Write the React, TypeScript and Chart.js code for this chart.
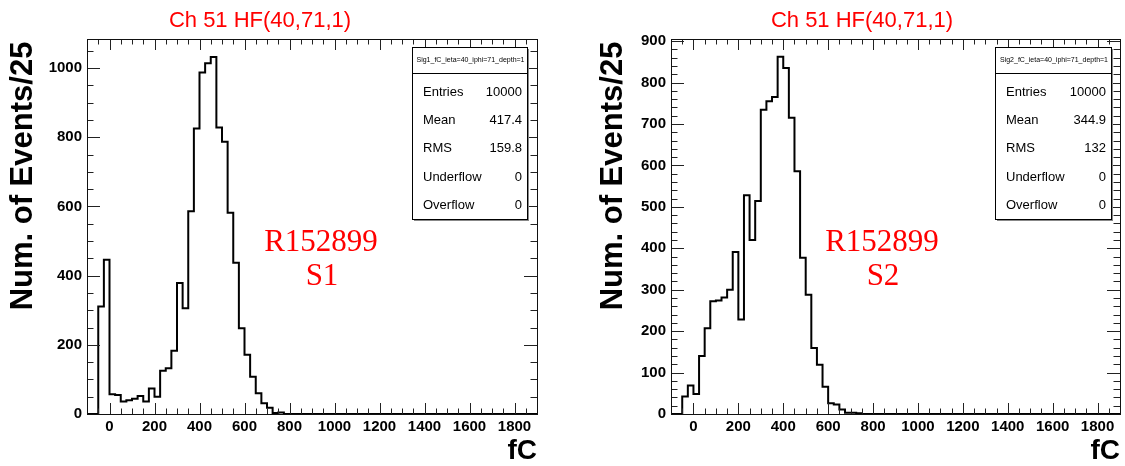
import React, { useEffect, useRef } from 'react';
import { Chart, registerables } from 'chart.js';

Chart.register(...registerables);

// Histogram binning (fC)
const binLow = -100;
const binHigh = 1900;
const binWidth = 25;

// Counts per 25 fC bin, starting at the -100 fC bin; bins beyond the list are empty
const sig1Counts = [
  0, 0, 0, 311, 446, 57, 55, 36, 40, 44, 52, 36, 74, 50, 125, 132, 183, 379, 306,
  586, 825, 987, 1014, 1032, 828, 787, 582, 437, 248, 171, 108, 60, 31, 18, 3, 4,
];
const sig2Counts = [
  0, 0, 0, 42, 69, 48, 140, 207, 272, 274, 281, 300, 391, 228, 528, 420, 514, 734,
  755, 765, 862, 835, 715, 586, 377, 288, 159, 119, 66, 26, 23, 11, 3, 3, 2,
];

const xTickValues = [0, 200, 400, 600, 800, 1000, 1200, 1400, 1600, 1800];
const sig1YTicks = [0, 200, 400, 600, 800, 1000];
const sig2YTicks = [0, 100, 200, 300, 400, 500, 600, 700, 800, 900];

const statLabels = ['Entries', 'Mean', 'RMS', 'Underflow', 'Overflow'];
const sig1Stats = ['10000', '417.4', '159.8', '0', '0'];
const sig2Stats = ['10000', '344.9', '132', '0', '0'];

const chartTitle = 'Ch 51 HF(40,71,1)';
const yAxisTitle = 'Num. of Events/25';
const xAxisTitle = 'fC';
const runLabel = 'R152899';

const SANS = '"Liberation Sans", Arial, Helvetica, sans-serif';
const SERIF = '"Liberation Serif", "Times New Roman", serif';

function toPoints(counts: number[]) {
  const nBins = Math.round((binHigh - binLow) / binWidth);
  const pts: { x: number; y: number }[] = [];
  for (let i = 0; i < nBins; i++) {
    pts.push({ x: binLow + i * binWidth, y: i < counts.length ? counts[i] : 0 });
  }
  pts.push({ x: binHigh, y: 0 });
  return pts;
}

const rootPlugin = {
  id: 'rootDecor',
  afterDatasetsDraw(chart: any, _args: any, o: any) {
    const ctx = chart.ctx as CanvasRenderingContext2D;
    const { left, right, top, bottom } = chart.chartArea;
    const xs = chart.scales.x;
    const ys = chart.scales.y;
    ctx.save();

    // ticks inside the frame (all four sides)
    ctx.strokeStyle = '#222';
    ctx.lineWidth = 1;
    ctx.beginPath();
    for (let v = xs.min; v <= xs.max + 1e-6; v += o.xMinor) {
      const px = Math.round(xs.getPixelForValue(v)) + 0.5;
      if (px <= left + 1 || px >= right - 1) continue;
      const major = Math.abs(v % o.xMajor) < 1e-6;
      const len = major ? 11 : 5.5;
      ctx.moveTo(px, bottom);
      ctx.lineTo(px, bottom - len);
      ctx.moveTo(px, top);
      ctx.lineTo(px, top + len);
    }
    for (let v = ys.min; v <= ys.max + 1e-6; v += o.yMinor) {
      const py = Math.round(ys.getPixelForValue(v)) + 0.5;
      if (py <= top + 1 || py >= bottom - 1) continue;
      const major = Math.abs(v % o.yMajor) < 1e-6;
      const len = major ? 13 : 6.5;
      ctx.moveTo(left, py);
      ctx.lineTo(left + len, py);
      ctx.moveTo(right, py);
      ctx.lineTo(right - len, py);
    }
    ctx.stroke();

    // frame
    ctx.strokeStyle = '#111';
    ctx.strokeRect(Math.round(left) + 0.5, Math.round(top) + 0.5, Math.round(right - left), Math.round(bottom - top));

    // stats box
    const b = o.box;
    ctx.fillStyle = '#888';
    ctx.fillRect(b.x0 + 2, b.y0 + 2, b.x1 - b.x0, b.y1 - b.y0);
    ctx.fillStyle = '#fff';
    ctx.fillRect(b.x0, b.y0, b.x1 - b.x0, b.y1 - b.y0);
    ctx.strokeStyle = '#000';
    ctx.strokeRect(b.x0 + 0.5, b.y0 + 0.5, b.x1 - b.x0, b.y1 - b.y0);
    ctx.beginPath();
    ctx.moveTo(b.x0, b.div + 0.5);
    ctx.lineTo(b.x1, b.div + 0.5);
    ctx.stroke();
    ctx.fillStyle = '#000';
    ctx.font = `7px ${SANS}`;
    ctx.textAlign = 'center';
    ctx.textBaseline = 'middle';
    ctx.fillText(b.name, (b.x0 + b.x1) / 2 + 1, (b.y0 + b.div) / 2);
    ctx.font = `13px ${SANS}`;
    statLabels.forEach((lab, i) => {
      const y = b.rowY[i];
      ctx.textAlign = 'left';
      ctx.fillText(lab, b.x0 + 11, y);
      ctx.textAlign = 'right';
      ctx.fillText(b.values[i], b.x1 - 5, y);
    });

    // main title
    ctx.fillStyle = '#ff0000';
    ctx.font = `22px ${SANS}`;
    ctx.textAlign = 'center';
    ctx.textBaseline = 'alphabetic';
    ctx.fillText(chartTitle, o.titleX, 27);

    // run label
    ctx.font = `31px ${SERIF}`;
    ctx.fillText(runLabel, o.runX, 251);
    ctx.fillText(o.sample, o.runX + 1, 285);

    // axis titles
    ctx.fillStyle = '#000';
    ctx.font = `bold 28px ${SANS}`;
    ctx.textAlign = 'right';
    ctx.fillText(xAxisTitle, right, 459);

    ctx.save();
    ctx.translate(o.yTitleX, 176);
    ctx.rotate(-Math.PI / 2);
    ctx.font = `bold 31px ${SANS}`;
    ctx.textAlign = 'center';
    ctx.fillText(yAxisTitle, 0, 0);
    ctx.restore();

    ctx.restore();
  },
};

function makeConfig(p: {
  counts: number[];
  yMax: number;
  yTicks: number[];
  yWidth: number;
  padRight: number;
  decor: any;
}): any {
  return {
    type: 'line',
    data: {
      datasets: [
        {
          data: toPoints(p.counts),
          stepped: 'after',
          borderColor: '#000',
          borderWidth: 2,
          pointRadius: 0,
          fill: false,
        },
      ],
    },
    options: {
      responsive: false,
      animation: false,
      layout: { padding: { left: 0, right: p.padRight, top: 39, bottom: 0 } },
      plugins: {
        legend: { display: false },
        tooltip: { enabled: false },
        rootDecor: p.decor,
      },
      scales: {
        x: {
          type: 'linear',
          min: binLow,
          max: binHigh,
          afterBuildTicks: (s: any) => {
            s.ticks = xTickValues.map((v) => ({ value: v }));
          },
          afterFit: (s: any) => {
            s.height = 52;
          },
          grid: { display: false, drawTicks: false },
          border: { display: false },
          ticks: {
            color: '#000',
            font: { family: SANS, weight: 'bold', size: 15 },
            padding: 4,
            maxRotation: 0,
            autoSkip: false,
            callback: (v: any) => String(v),
          },
        },
        y: {
          type: 'linear',
          min: 0,
          max: p.yMax,
          afterBuildTicks: (s: any) => {
            s.ticks = p.yTicks.map((v) => ({ value: v }));
          },
          afterFit: (s: any) => {
            s.width = p.yWidth;
          },
          grid: { display: false, drawTicks: false },
          border: { display: false },
          ticks: {
            color: '#000',
            font: { family: SANS, weight: 'bold', size: 15 },
            padding: 5,
            autoSkip: false,
            callback: (v: any) => String(v),
          },
        },
      },
    },
    plugins: [rootPlugin],
  };
}

const rowYs = [92, 120, 148, 177, 205];

export default function App() {
  const leftRef = useRef<HTMLCanvasElement>(null);
  const rightRef = useRef<HTMLCanvasElement>(null);

  useEffect(() => {
    const c1 = new Chart(
      leftRef.current!,
      makeConfig({
        counts: sig1Counts,
        yMax: 1084,
        yTicks: sig1YTicks,
        yWidth: 87,
        padRight: 25,
        decor: {
          xMinor: 50,
          xMajor: 200,
          yMinor: 50,
          yMajor: 200,
          titleX: 260,
          runX: 321,
          sample: 'S1',
          yTitleX: 32,
          box: {
            x0: 412,
            x1: 527,
            y0: 47,
            y1: 219,
            div: 73,
            name: 'Sig1_fC_ieta=40_iphi=71_depth=1',
            rowY: rowYs,
            values: sig1Stats,
          },
        },
      })
    );
    const c2 = new Chart(
      rightRef.current!,
      makeConfig({
        counts: sig2Counts,
        yMax: 905,
        yTicks: sig2YTicks,
        yWidth: 109,
        padRight: 5,
        decor: {
          xMinor: 50,
          xMajor: 200,
          yMinor: 20,
          yMajor: 100,
          titleX: 300,
          runX: 320,
          sample: 'S2',
          yTitleX: 60,
          box: {
            x0: 433,
            x1: 549,
            y0: 47,
            y1: 219,
            div: 73,
            name: 'Sig2_fC_ieta=40_iphi=71_depth=1',
            rowY: rowYs,
            values: sig2Stats,
          },
        },
      })
    );
    return () => {
      c1.destroy();
      c2.destroy();
    };
  }, []);

  return (
    <div style={{ position: 'fixed', left: 0, top: 0, width: 1125, height: 466, background: '#fff' }}>
      <canvas ref={leftRef} width={562} height={466} style={{ position: 'absolute', left: 0, top: 0 }} />
      <canvas ref={rightRef} width={563} height={466} style={{ position: 'absolute', left: 562, top: 0 }} />
    </div>
  );
}
